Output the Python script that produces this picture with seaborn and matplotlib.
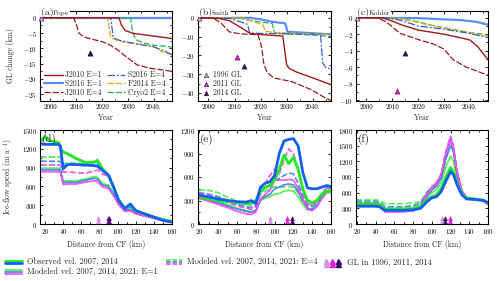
import numpy as np
import pandas as pd
import matplotlib
matplotlib.use("Agg")
import matplotlib.pyplot as plt
import matplotlib.patheffects as pe
from matplotlib.lines import Line2D
from matplotlib.ticker import MultipleLocator
import seaborn as sns

# ---------------- data: grounding-line change (km) ----------------
# Pope
pope_j2010_e1_yr = [1996, 2026.5, 2027.5, 2029, 2032, 2040, 2047]
pope_j2010_e1 = [0, 0, -2.5, -4.2, -5.1, -6.0, -6.8]
pope_s2016_e1_yr = [1996, 2047]
pope_s2016_e1 = [0, 0]
pope_j2010_e4_yr = [1996, 2009, 2010, 2011, 2013, 2016, 2020, 2023, 2026, 2030, 2033.5, 2038.5, 2047]
pope_j2010_e4 = [0, 0, -2, -5, -6.3, -7, -7.8, -8.9, -10.5, -13.2, -15.4, -16.5, -17.5]
pope_s2016_e4_yr = [1996, 2023.3, 2024.3, 2026, 2030, 2035, 2040, 2043, 2047]
pope_s2016_e4 = [0, 0, -6.5, -7.2, -8.0, -8.8, -9.5, -10.5, -12.0]
pope_f2014_e4_yr = [1996, 2022.2, 2023.3, 2026, 2030, 2036, 2040, 2043, 2047]
pope_f2014_e4 = [0, 0, -6.5, -7.5, -8.2, -8.8, -9.5, -11.0, -12.2]
pope_cryo2_e4_yr = [1996, 2031, 2031.7, 2033, 2036, 2040, 2044, 2047]
pope_cryo2_e4 = [0, 0, -4.5, -7.2, -8.2, -9.0, -9.3, -9.6]
pope_gl_yr = [1996.5, 2015.3]
pope_gl = [0, -11.6]

# Smith
smith_j2010_e1_yr = [1996, 2004, 2008, 2012, 2016, 2021, 2028.5, 2029.3, 2030, 2031, 2034, 2040, 2047]
smith_j2010_e1 = [0, -0.3, -1.5, -4.8, -8.3, -9, -9.7, -18, -25, -27, -29, -32, -35.6]
smith_s2016_e1_yr = [1996, 2016, 2020, 2024, 2029.5, 2030.3, 2035, 2040, 2047]
smith_s2016_e1 = [0, 0, -0.8, -2, -3, -7.4, -7.8, -8.2, -8.8]
smith_j2010_e4_yr = [1996, 2002, 2005, 2008, 2012, 2019, 2020.3, 2021.3, 2022.5, 2025, 2032, 2039, 2044, 2047]
smith_j2010_e4 = [0, -0.3, -3, -7.5, -8.5, -9, -15, -25, -29, -32, -34, -38, -42, -44]
smith_s2016_e4_yr = [1996, 2008, 2012, 2015, 2015.8, 2020, 2030, 2043, 2043.8, 2045, 2047]
smith_s2016_e4 = [0, -0.2, -2, -3.5, -8, -8.3, -8.5, -8.8, -24, -26.5, -27.5]
smith_f2014_e4_yr = [1996, 2013, 2017.5, 2021, 2021.8, 2025, 2035, 2047]
smith_f2014_e4 = [0, 0, -2, -4, -7.2, -7.8, -8.3, -8.8]
smith_cryo2_e4_yr = [1996, 2012, 2015, 2020, 2024.5, 2025.3, 2030, 2040, 2047]
smith_cryo2_e4 = [0, 0, -1.2, -2.2, -3, -8, -8.6, -9.2, -10]
smith_gl1996 = (1996.5, 0)
smith_gl2011 = (2010.9, -20.6)
smith_gl2014 = (2013.7, -25.9)

# Kohler
kohler_j2010_e1_yr = [1996, 2006, 2010, 2013, 2020, 2026, 2030, 2036, 2040, 2043, 2047]
kohler_j2010_e1 = [0, 0, -0.4, -0.8, -1.5, -1.8, -2.0, -2.4, -2.7, -3.5, -5.1]
kohler_s2016_e1_yr = [1996, 2020, 2030, 2037, 2042.5, 2047]
kohler_s2016_e1 = [0, -0.05, -0.2, -0.3, -0.5, -0.85]
kohler_j2010_e4_yr = [1996, 2004, 2007.7, 2013, 2020.6, 2026, 2030, 2033.5, 2038.7, 2043, 2047]
kohler_j2010_e4 = [0, 0, -0.5, -1.9, -2.7, -3.2, -3.8, -5.1, -6.0, -6.5, -7.0]
kohler_s2016_e4_yr = [1996, 2008, 2013, 2020, 2030, 2038, 2047]
kohler_s2016_e4 = [0, 0, -0.3, -1.0, -1.4, -1.8, -2.4]
kohler_f2014_e4_yr = [1996, 2008, 2013, 2020, 2025, 2030, 2035, 2040, 2047]
kohler_f2014_e4 = [0, 0, -0.1, -0.55, -0.95, -1.25, -1.55, -1.85, -2.2]
kohler_cryo2_e4_yr = [1996, 2008, 2013, 2020, 2025, 2030, 2035, 2040, 2047]
kohler_cryo2_e4 = [0, 0, -0.1, -0.5, -0.9, -1.2, -1.5, -1.8, -2.1]
kohler_gl1996 = (1996.5, 0)
kohler_gl2011 = (2012.0, -8.9)
kohler_gl2014 = (2015.1, -4.3)

year_ticks = [2000, 2010, 2020, 2030, 2040]
year_labels = ["2000", "2010", "2020", "2030", "2040."]

# ---------------- data: ice-flow speed (m/a) vs distance from CF (km) ----------------
km_d = [15, 20, 25, 35, 37, 40, 45, 55, 65, 75, 78, 83, 90, 96, 101, 108, 114, 120, 130, 140, 150, 160]
pope_obs07 = [1310, 1400, 1330, 1300, 1200, 1150, 1120, 1040, 980, 990, 1010, 890, 770, 580, 390, 250, 310, 210, 160, 110, 70, 40]
pope_obs14 = [1280, 1270, 1270, 1270, 1250, 880, 950, 950, 940, 930, 920, 860, 780, 570, 380, 245, 320, 215, 160, 110, 60, 30]
pope_e1_07 = [890, 890, 890, 890, 880, 680, 690, 690, 720, 760, 740, 650, 620, 480, 350, 230, 240, 180, 140, 100, 60, 35]
pope_e1_14 = [865, 865, 865, 865, 855, 660, 665, 665, 700, 730, 715, 625, 600, 460, 330, 215, 225, 170, 130, 95, 55, 30]
pope_e1_21 = [835, 835, 835, 835, 825, 630, 640, 640, 670, 690, 680, 595, 570, 440, 310, 200, 210, 160, 125, 90, 50, 28]
pope_e4_07 = [1070, 1070, 1070, 1070, 1060, 960, 980, 970, 960, 990, 1030, 890, 790, 590, 400, 250, 280, 200, 150, 105, 65, 35]
pope_e4_14 = [1000, 1000, 1000, 1000, 995, 930, 950, 940, 930, 950, 960, 870, 800, 600, 400, 245, 270, 195, 145, 100, 60, 32]
pope_e4_21 = [940, 940, 940, 940, 935, 830, 830, 820, 810, 850, 860, 800, 760, 580, 380, 235, 255, 185, 140, 95, 55, 30]
pope_gl_km = [78.7, 90.0, 90.6]

km_e = [19, 30, 40, 50, 60, 70, 75, 80, 85, 90, 95, 100, 105, 110, 115, 120, 125, 130, 135, 140, 145, 150, 155, 160]
smith_obs14 = [370, 345, 320, 300, 285, 280, 300, 260, 470, 520, 540, 620, 900, 1060, 1080, 1090, 1000, 660, 460, 450, 450, 470, 490, 480]
smith_obs07 = [350, 320, 300, 290, 270, 260, 270, 300, 420, 470, 490, 560, 700, 880, 770, 850, 700, 450, 300, 270, 300, 380, 420, 410]
smith_e1_07 = [360, 320, 290, 250, 200, 170, 160, 170, 300, 330, 350, 380, 390, 420, 430, 420, 350, 250, 180, 180, 230, 320, 400, 400]
smith_e1_14 = [340, 300, 270, 230, 190, 160, 150, 170, 310, 350, 380, 450, 470, 500, 510, 500, 420, 300, 200, 190, 240, 330, 410, 420]
smith_e1_21 = [330, 290, 250, 210, 160, 130, 120, 150, 320, 380, 430, 560, 560, 560, 570, 560, 460, 320, 190, 170, 220, 320, 400, 410]
smith_e4_07 = [430, 430, 400, 340, 290, 250, 240, 250, 380, 420, 450, 480, 470, 470, 480, 470, 400, 290, 220, 220, 270, 350, 430, 440]
smith_e4_14 = [400, 380, 350, 300, 250, 220, 210, 230, 400, 460, 500, 560, 580, 620, 650, 640, 520, 360, 240, 230, 280, 370, 450, 460]
smith_e4_21 = [390, 360, 320, 280, 230, 200, 190, 220, 420, 520, 620, 700, 640, 820, 960, 900, 700, 420, 260, 240, 290, 380, 460, 470]
smith_gl_km = [95.3, 113.0, 118.0]

km_f = [19, 30, 40, 44, 50, 60, 70, 80, 88, 95, 100, 105, 110, 115, 120, 123, 127, 132, 137, 145, 155, 160]
kohler_obs14 = [340, 340, 340, 330, 260, 260, 260, 270, 300, 430, 500, 520, 620, 820, 1000, 950, 750, 560, 480, 470, 450, 410]
kohler_obs07 = [370, 370, 370, 360, 280, 280, 285, 290, 330, 470, 520, 560, 680, 900, 1080, 1000, 780, 580, 500, 480, 460, 400]
kohler_e1_07 = [400, 400, 400, 390, 300, 300, 300, 310, 360, 520, 600, 660, 800, 1100, 1300, 1200, 880, 600, 500, 480, 460, 390]
kohler_e1_14 = [380, 380, 380, 370, 270, 270, 270, 290, 340, 540, 650, 720, 880, 1250, 1500, 1400, 950, 620, 500, 480, 450, 380]
kohler_e1_21 = [360, 360, 360, 350, 230, 230, 235, 250, 320, 560, 680, 760, 950, 1350, 1600, 1450, 980, 630, 500, 470, 440, 370]
kohler_e4_07 = [460, 460, 460, 450, 390, 390, 390, 400, 430, 620, 720, 780, 880, 1250, 1520, 1380, 950, 620, 500, 480, 460, 400]
kohler_e4_14 = [430, 430, 430, 420, 330, 330, 330, 350, 400, 600, 700, 780, 920, 1350, 1650, 1480, 1000, 640, 510, 490, 460, 390]
kohler_e4_21 = [400, 400, 400, 390, 280, 280, 280, 300, 370, 580, 700, 800, 960, 1400, 1680, 1500, 1000, 640, 510, 480, 450, 380]
kohler_gl_km = [111.0, 119.0, 114.6]

# ---------------- styles ----------------
C_RED = "#9E1A1A"
C_SBLUE = "#5C8DF5"
C_DBLUE = "#2F5FE0"
C_ORANGE = "#E8A317"
C_GREEN = "#2DB34A"
V_GREEN = "#1EE81E"
V_BLUE = "#1460F5"
V_MAG = "#F01EF0"
GL_COLORS = ["#D58FE0", "#E21CE2", "#3A0A6A"]

sns.set_theme(style="ticks")
plt.rcParams["font.family"] = ["cmr10", "DejaVu Serif"]
plt.rcParams["mathtext.fontset"] = "cm"
plt.rcParams["axes.formatter.use_mathtext"] = True
plt.rcParams["axes.unicode_minus"] = True

fig = plt.figure(figsize=(5.0, 2.81), dpi=100)
W, H = 500.0, 281.0
cols = [(40, 132), (198, 133), (356, 132)]
top_y = (10.7, 101.0)
bot_y = (130.0, 224.0)


def mk(col, ys):
    l, w = cols[col]
    t, b = ys
    return fig.add_axes([l / W, 1 - b / H, w / W, (b - t) / H])


def style(ax):
    ax.tick_params(which="both", direction="in", top=True, right=True, width=0.6,
                   labelsize=5, pad=2, colors="black")
    ax.tick_params(which="major", length=2.5)
    ax.tick_params(which="minor", length=1.5)
    for s in ax.spines.values():
        s.set_linewidth(0.8)
        s.set_color("black")


axa, axb, axc = mk(0, top_y), mk(1, top_y), mk(2, top_y)
axd, axe, axf = mk(0, bot_y), mk(1, bot_y), mk(2, bot_y)

top_sets = [
    (axa, [(pope_j2010_e1_yr, pope_j2010_e1), (pope_s2016_e1_yr, pope_s2016_e1),
           (pope_j2010_e4_yr, pope_j2010_e4), (pope_s2016_e4_yr, pope_s2016_e4),
           (pope_f2014_e4_yr, pope_f2014_e4), (pope_cryo2_e4_yr, pope_cryo2_e4)]),
    (axb, [(smith_j2010_e1_yr, smith_j2010_e1), (smith_s2016_e1_yr, smith_s2016_e1),
           (smith_j2010_e4_yr, smith_j2010_e4), (smith_s2016_e4_yr, smith_s2016_e4),
           (smith_f2014_e4_yr, smith_f2014_e4), (smith_cryo2_e4_yr, smith_cryo2_e4)]),
    (axc, [(kohler_j2010_e1_yr, kohler_j2010_e1), (kohler_s2016_e1_yr, kohler_s2016_e1),
           (kohler_j2010_e4_yr, kohler_j2010_e4), (kohler_s2016_e4_yr, kohler_s2016_e4),
           (kohler_f2014_e4_yr, kohler_f2014_e4), (kohler_cryo2_e4_yr, kohler_cryo2_e4)]),
]
series_names = ["J2010 E=1", "S2016 E=1", "J2010 E=4", "S2016 E=4", "F2014 E=4", "Cryo2 E=4"]
series_style = [
    dict(color=C_RED, lw=1.0, linestyle="-"),
    dict(color=C_SBLUE, lw=1.6, linestyle="-"),
    dict(color=C_RED, lw=0.9, dashes=(5, 1.5)),
    dict(color=C_DBLUE, lw=0.9, dashes=(6, 1.5, 1.5, 1.5)),
    dict(color=C_ORANGE, lw=0.9, dashes=(5, 1.5)),
    dict(color=C_GREEN, lw=0.9, dashes=(5, 1.5)),
]
plot_order = [1, 5, 4, 3, 0, 2]

for k, (ax, sets) in enumerate(top_sets):
    for i in plot_order:
        yr, val = sets[i]
        st = dict(series_style[i])
        dashes = st.pop("dashes", None)
        sns.lineplot(x=yr, y=val, ax=ax, sort=False, estimator=None, errorbar=None,
                     label=series_names[i] if k == 0 else None, **st)
        if dashes is not None:
            ax.lines[-1].set_dashes(dashes)

# GL triangles in top panels
sns.scatterplot(x=[pope_gl_yr[0]], y=[pope_gl[0]], ax=axa, marker="^", s=14, color=GL_COLORS[0],
                edgecolor="#5a2a6a", linewidth=0.4, clip_on=False, zorder=5)
sns.scatterplot(x=[pope_gl_yr[1]], y=[pope_gl[1]], ax=axa, marker="^", s=14, color=GL_COLORS[2],
                edgecolor="black", linewidth=0.4, zorder=5)
for ax, g96, g11, g14, lab in [(axb, smith_gl1996, smith_gl2011, smith_gl2014, True),
                               (axc, kohler_gl1996, kohler_gl2011, kohler_gl2014, False)]:
    for (gx, gy), c, name in [(g96, GL_COLORS[0], "1996 GL"), (g11, GL_COLORS[1], "2011 GL"),
                              (g14, GL_COLORS[2], "2014 GL")]:
        sns.scatterplot(x=[gx], y=[gy], ax=ax, marker="^", s=14, color=c, edgecolor="#333333",
                        linewidth=0.4, clip_on=False, zorder=5, label=name if lab else None)

ylims_top = [(-27.2, 2.3), (-44.3, 3.8), (-10.1, 0.85)]
yticks_top = [np.arange(-25, 1, 5), np.arange(-40, 1, 10), np.arange(-10, 1, 2)]
yminor_top = [2.5, 5, 1]
for ax, yl, yt, ym in zip([axa, axb, axc], ylims_top, yticks_top, yminor_top):
    ax.set_xlim(1996, 2047)
    ax.set_ylim(*yl)
    ax.set_xticks(year_ticks)
    ax.set_xticklabels(year_labels)
    ax.set_yticks(yt)
    ax.xaxis.set_minor_locator(MultipleLocator(5))
    ax.yaxis.set_minor_locator(MultipleLocator(ym))
    ax.set_xlabel("Year", fontsize=5.5, labelpad=3)
    ax.set_ylabel("")
    style(ax)
    if ax.get_legend() is not None:
        ax.get_legend().remove()

axa.set_ylabel("GL change (km)", fontsize=5.5)
axa.yaxis.set_label_coords(-0.19, 0.5)

# legend in (a)
h, l = axa.get_legend_handles_labels()
hd = {lab: hh for hh, lab in zip(h, l)}
leg_order = ["J2010 E=1", "S2016 E=1", "J2010 E=4", "S2016 E=4", "F2014 E=4", "Cryo2 E=4"]
axa.legend([hd[n] for n in leg_order], leg_order, loc="lower left", ncol=2, fontsize=5.5,
           frameon=False, handlelength=2.4, handletextpad=0.3, columnspacing=0.7,
           labelspacing=0.05, borderaxespad=0.15, bbox_to_anchor=(0.0, 0.0))
# legend in (b)
hb, lb = axb.get_legend_handles_labels()
axb.legend(hb, lb, loc="lower left", fontsize=5.5, frameon=False, handlelength=1.0,
           handletextpad=0.4, labelspacing=0.05, borderaxespad=0.15, markerscale=0.9)

# panel tags top
for ax, tag, name, dx in [(axa, "(a)", "Pope", 0.098), (axb, "(b)", "Smith", 0.098),
                          (axc, "(c)", "Kohler", 0.095)]:
    ax.text(0.004, 0.955, tag, transform=ax.transAxes, fontsize=7, va="baseline", ha="left",
            zorder=10, bbox=dict(fc="white", ec="none", pad=0.2))
    ax.text(dx, 0.955, name, transform=ax.transAxes, fontsize=5.2, va="baseline", ha="left",
            zorder=9, bbox=dict(fc="white", ec="none", pad=0.6))


# ---------------- velocity panels ----------------
def hollow(color, lw):
    return [pe.Stroke(linewidth=lw, foreground=color),
            pe.Stroke(linewidth=lw * 0.3, foreground="white", alpha=0.6)]


vel_sets = [
    (axd, km_d, pope_obs07, pope_obs14, [pope_e1_07, pope_e1_14, pope_e1_21], [pope_e4_07, pope_e4_14, pope_e4_21], pope_gl_km),
    (axe, km_e, smith_obs07, smith_obs14, [smith_e1_07, smith_e1_14, smith_e1_21], [smith_e4_07, smith_e4_14, smith_e4_21], smith_gl_km),
    (axf, km_f, kohler_obs07, kohler_obs14, [kohler_e1_07, kohler_e1_14, kohler_e1_21], [kohler_e4_07, kohler_e4_14, kohler_e4_21], kohler_gl_km),
]
vcols = [V_GREEN, V_BLUE, V_MAG]
for ax, km, o07, o14, e1, e4, glk in vel_sets:
    for vals, c in zip(e4, vcols):
        sns.lineplot(x=km, y=vals, ax=ax, sort=False, estimator=None, errorbar=None, color=c, lw=1.1)
        ax.lines[-1].set_dashes((4, 1.5))
        ax.lines[-1].set_path_effects(hollow(c, 1.1))
    for vals, c in zip(e1, vcols):
        sns.lineplot(x=km, y=vals, ax=ax, sort=False, estimator=None, errorbar=None, color=c, lw=1.1)
        ax.lines[-1].set_path_effects(hollow(c, 1.1))
    sns.lineplot(x=km, y=o07, ax=ax, sort=False, estimator=None, errorbar=None, color=V_GREEN, lw=2.0)
    sns.lineplot(x=km, y=o14, ax=ax, sort=False, estimator=None, errorbar=None, color=V_BLUE, lw=2.0)
    tr = ax.get_xaxis_transform()
    for gx, c in zip(glk, GL_COLORS):
        for yy in (0.03, 0.065):
            ax.scatter([gx], [yy], marker="^", s=12, color=c, transform=tr, zorder=6,
                       linewidths=0, clip_on=False)

vylims = [(0, 1500), (0, 1200), (0, 1800)]
vyt = [np.arange(0, 1501, 300), np.arange(0, 1201, 300), np.arange(0, 1801, 300)]
vxl = [(14.5, 160), (18.5, 160), (19, 160)]
for ax, yl, yt, xl, tag in zip([axd, axe, axf], vylims, vyt, vxl, ["(d)", "(e)", "(f)"]):
    ax.set_xlim(*xl)
    ax.set_ylim(*yl)
    ax.set_yticks(yt)
    ax.set_xticks(np.arange(20, 161, 20))
    ax.xaxis.set_minor_locator(MultipleLocator(10))
    ax.yaxis.set_minor_locator(MultipleLocator(150))
    ax.set_xlabel("Distance from CF (km)", fontsize=5.5, labelpad=3)
    ax.set_ylabel("")
    style(ax)
    ax.text(0.012, 0.96, tag, transform=ax.transAxes, fontsize=8, va="top", ha="left", zorder=10)

axd.set_ylabel("Ice-flow speed (m a$^{-1}$)", fontsize=5.5)
axd.yaxis.set_label_coords(-0.185, 0.5)


# ---------------- bottom legend ----------------
def fx(px):
    return px / W


def fy(py):
    return 1 - py / H


r1, r2 = 262.0, 272.0
fig.add_artist(Line2D([fx(5), fx(22)], [fy(r1 - 1.1)] * 2, color=V_GREEN, lw=2.0, transform=fig.transFigure))
fig.add_artist(Line2D([fx(5), fx(22)], [fy(r1 + 1.1)] * 2, color=V_BLUE, lw=2.0, transform=fig.transFigure))
fig.text(fx(27), fy(r1), "Observed vel. 2007, 2014", fontsize=6, va="center", ha="left")
for j, c in enumerate(vcols):
    ln = Line2D([fx(5), fx(22)], [fy(r2 - 2 + 2 * j)] * 2, color=c, lw=1.1, transform=fig.transFigure)
    ln.set_path_effects(hollow(c, 1.1))
    fig.add_artist(ln)
fig.text(fx(27), fy(r2), "Modeled vel. 2007, 2014, 2021: E=1", fontsize=6, va="center", ha="left")
for j, c in enumerate(vcols):
    ln = Line2D([fx(166), fx(182)], [fy(r1 - 2 + 2 * j)] * 2, color=c, lw=1.1, transform=fig.transFigure)
    ln.set_dashes((3, 1.2))
    ln.set_path_effects(hollow(c, 1.1))
    fig.add_artist(ln)
fig.text(fx(187), fy(r1), "Modeled vel. 2007, 2014, 2021: E=4", fontsize=6, va="center", ha="left")
for j, c in enumerate(GL_COLORS):
    for dy in (2.0, -1.0):
        fig.add_artist(Line2D([fx(326 + 6 * j)], [fy(r1 + dy)], marker="^", markersize=3.6, color=c,
                              lw=0, transform=fig.transFigure))
fig.text(fx(347), fy(r1), "GL in 1996, 2011, 2014", fontsize=6, va="center", ha="left")

fig.savefig("out.png", dpi=100)
